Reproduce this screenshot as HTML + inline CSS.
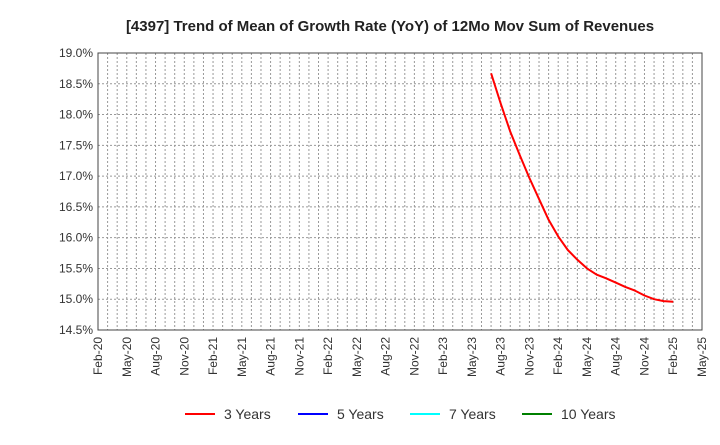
<!DOCTYPE html>
<html><head><meta charset="utf-8"><style>
body{margin:0;background:#fff;font-family:"Liberation Sans",sans-serif;}
svg text{font-family:"Liberation Sans",sans-serif;}
</style></head><body>
<svg id="chart" width="720" height="440" xmlns="http://www.w3.org/2000/svg">
<text x="390" y="31" text-anchor="middle" font-size="15" font-weight="bold" fill="#222">[4397]  Trend of Mean of Growth Rate (YoY) of 12Mo Mov Sum of Revenues</text>
<g id="grid"></g><g id="axes"></g><g id="series"></g>
<g id="legend"></g>
</svg>
<script>
const yTicks=[14.5,15.0,15.5,16.0,16.5,17.0,17.5,18.0,18.5,19.0];
const xTickLabels=["Feb-20","May-20","Aug-20","Nov-20","Feb-21","May-21","Aug-21","Nov-21","Feb-22","May-22","Aug-22","Nov-22","Feb-23","May-23","Aug-23","Nov-23","Feb-24","May-24","Aug-24","Nov-24","Feb-25","May-25"];
const months3y=["Jul-23","Aug-23","Sep-23","Oct-23","Nov-23","Dec-23","Jan-24","Feb-24","Mar-24","Apr-24","May-24","Jun-24","Jul-24","Aug-24","Sep-24","Oct-24","Nov-24","Dec-24","Jan-25","Feb-25"];
const values3y=[18.67,18.18,17.72,17.34,16.97,16.63,16.29,16.02,15.80,15.64,15.50,15.40,15.34,15.27,15.20,15.14,15.06,15.00,14.97,14.96];
const legendLabels=["3 Years","5 Years","7 Years","10 Years"];
const legendColors=["#ff0000","#0000ff","#00ffff","#008000"];

const L=98,R=702,T=53,B=330,NS="http://www.w3.org/2000/svg";
const MN=["Jan","Feb","Mar","Apr","May","Jun","Jul","Aug","Sep","Oct","Nov","Dec"];
function monthIndex(s){const[m,y]=s.split("-");return (2000+ +y)*12+MN.indexOf(m);}
const m0=monthIndex("Feb-20"),m1=monthIndex("May-25");
const xs=s=>L+(monthIndex(s)-m0)/(m1-m0)*(R-L);
const ys=v=>B-(v-14.5)/(19-14.5)*(B-T);
function mk(t,a,p){const e=document.createElementNS(NS,t);for(const k in a)e.setAttribute(k,a[k]);p.appendChild(e);return e;}
const grid=document.getElementById("grid"),axes=document.getElementById("axes");
for(let m=m0;m<=m1;m++){const x=L+(m-m0)/(m1-m0)*(R-L);
 const l=mk("line",{x1:x,x2:x,y1:T,y2:B,stroke:"#999","stroke-dasharray":"2,2","stroke-width":1},grid);
 
 }
yTicks.forEach(v=>{const y=ys(v);
 const l=mk("line",{x1:L,x2:R,y1:y,y2:y,stroke:"#999","stroke-dasharray":"2,2","stroke-width":1},grid);
 
 
 const t=mk("text",{x:L-5,y:y+4,"text-anchor":"end","font-size":12,fill:"#333"},axes);t.textContent=v.toFixed(1)+"%";
 
 });
xTickLabels.forEach(s=>{const x=xs(s);
 const t=mk("text",{x:0,y:0,"text-anchor":"end","font-size":12,fill:"#333",transform:`translate(${x+4},${B+7}) rotate(-90)`},axes);t.textContent=s;
 
 });
const fr=mk("rect",{x:L,y:T,width:R-L,height:B-T,fill:"none",stroke:"#444","stroke-width":1},axes);


const pts=months3y.map((m,i)=>xs(m).toFixed(1)+","+ys(values3y[i]).toFixed(1)).join(" ");
const pl=mk("polyline",{points:pts,fill:"none",stroke:"#ff0000","stroke-width":2,"stroke-linejoin":"round"},document.getElementById("series"));


const lg=document.getElementById("legend");const lx=[185,298,410,522];
legendLabels.forEach((s,i)=>{
 const l=mk("line",{x1:lx[i],x2:lx[i]+30,y1:414,y2:414,stroke:legendColors[i],"stroke-width":2},lg);
 
 
 const t=mk("text",{x:lx[i]+39,y:419,"font-size":14,fill:"#333"},lg);t.textContent=s;
 
 });
</script>
</body></html>
